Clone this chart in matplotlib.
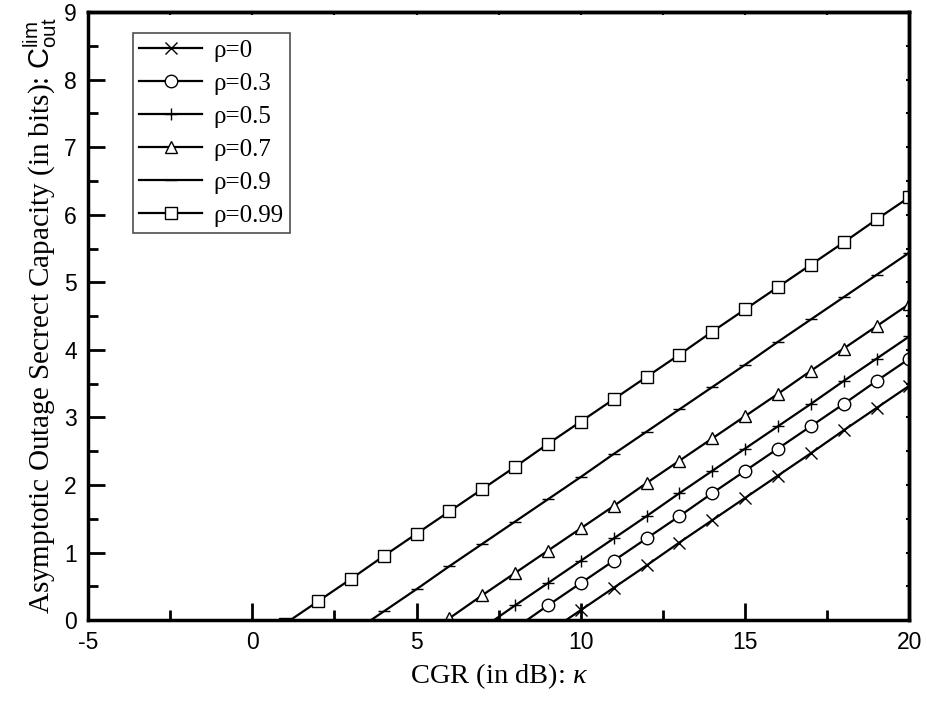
import matplotlib
matplotlib.use("Agg")
import matplotlib.pyplot as plt
from matplotlib.ticker import MultipleLocator

plt.rcParams['font.family'] = ['Liberation Serif', 'DejaVu Serif']
plt.rcParams['mathtext.fontset'] = 'custom'
plt.rcParams['mathtext.rm'] = 'Liberation Sans'
plt.rcParams['mathtext.it'] = 'Liberation Serif:italic'
plt.rcParams['axes.unicode_minus'] = False

# data (kappa in dB, capacity in bits)
x_r0 = [9, 10, 11, 12, 13, 14, 15, 16, 17, 18, 19, 20]
y_r0 = [-0.18, 0.15, 0.48, 0.81, 1.15, 1.48, 1.81, 2.14, 2.47, 2.81, 3.14, 3.47]

x_r03 = [8, 9, 10, 11, 12, 13, 14, 15, 16, 17, 18, 19, 20]
y_r03 = [-0.12, 0.22, 0.55, 0.88, 1.21, 1.54, 1.88, 2.21, 2.54, 2.87, 3.20, 3.54, 3.87]

x_r05 = [7, 8, 9, 10, 11, 12, 13, 14, 15, 16, 17, 18, 19, 20]
y_r05 = [-0.12, 0.22, 0.55, 0.88, 1.21, 1.54, 1.88, 2.21, 2.54, 2.87, 3.20, 3.54, 3.87, 4.20]

x_r07 = [5, 6, 7, 8, 9, 10, 11, 12, 13, 14, 15, 16, 17, 18, 19, 20]
y_r07 = [-0.30, 0.03, 0.37, 0.70, 1.03, 1.36, 1.69, 2.03, 2.36, 2.69, 3.02, 3.35, 3.69, 4.02, 4.35, 4.68]

x_r09 = [3, 4, 5, 6, 7, 8, 9, 10, 11, 12, 13, 14, 15, 16, 17, 18, 19, 20]
y_r09 = [-0.20, 0.13, 0.46, 0.80, 1.13, 1.46, 1.79, 2.12, 2.46, 2.79, 3.12, 3.45, 3.78, 4.12, 4.45, 4.78, 5.11, 5.44]

x_r099 = [1, 2, 3, 4, 5, 6, 7, 8, 9, 10, 11, 12, 13, 14, 15, 16, 17, 18, 19, 20]
y_r099 = [-0.05, 0.28, 0.61, 0.95, 1.28, 1.61, 1.94, 2.27, 2.61, 2.94, 3.27, 3.60, 3.93, 4.27, 4.60, 4.93, 5.26, 5.59, 5.93, 6.26]

labels = [u'\u03c1=0', u'\u03c1=0.3', u'\u03c1=0.5', u'\u03c1=0.7', u'\u03c1=0.9', u'\u03c1=0.99']
markers = ['x', 'o', '+', '^', '_', 's']
series = [(x_r0, y_r0), (x_r03, y_r03), (x_r05, y_r05), (x_r07, y_r07), (x_r09, y_r09), (x_r099, y_r099)]

fig = plt.figure(figsize=(9.27, 7.04), dpi=100)
ax = fig.add_axes([0.095, 0.119, 0.886, 0.864])

for (xs, ys), lab, m in zip(series, labels, markers):
    ax.plot(xs, ys, color='black', lw=1.6, marker=m, markersize=9,
            markerfacecolor='white', markeredgecolor='black', markeredgewidth=1.0,
            label=lab)

ax.set_xlim(-5, 20)
ax.set_ylim(0, 9)
ax.xaxis.set_major_locator(MultipleLocator(5))
ax.xaxis.set_minor_locator(MultipleLocator(2.5))
ax.yaxis.set_major_locator(MultipleLocator(1))
ax.yaxis.set_minor_locator(MultipleLocator(0.5))
ax.tick_params(which='both', direction='in', top=False, right=False, width=2)
ax.tick_params(which='major', length=12)
ax.tick_params(which='minor', length=7)
ax.tick_params(axis='both', labelsize=16.5, pad=8)
for lbl in ax.get_xticklabels() + ax.get_yticklabels():
    lbl.set_fontfamily('Liberation Sans')
for sp in ax.spines.values():
    sp.set_linewidth(2.5)

# tiny ticks on the top and right edges
top = ax.secondary_xaxis('top')
top.xaxis.set_major_locator(MultipleLocator(5))
top.xaxis.set_minor_locator(MultipleLocator(2.5))
top.tick_params(which='both', direction='in', length=2, width=1.5, labeltop=False)
top.spines['top'].set_linewidth(2.5)
right = ax.secondary_yaxis('right')
right.yaxis.set_major_locator(MultipleLocator(1))
right.yaxis.set_minor_locator(MultipleLocator(0.5))
right.tick_params(which='both', direction='in', length=2, width=1.5, labelright=False)
right.spines['right'].set_linewidth(2.5)

ax.set_xlabel(r'CGR (in dB): $\kappa$', fontsize=20.5, labelpad=5)
ax.set_ylabel(r'Asymptotic Outage Secrect Capacity (in bits): $\mathrm{C}_{\mathrm{out}}^{\mathrm{lim}}$',
              fontsize=21, labelpad=4)

leg = ax.legend(loc='upper left', bbox_to_anchor=(0.055, 0.965), borderaxespad=0, fontsize=18,
                handlelength=2.5, handletextpad=0.45, frameon=True, fancybox=False,
                edgecolor='#222222', borderpad=0.25, labelspacing=0.42)
leg.get_frame().set_linewidth(1.2)

fig.savefig('out.png', dpi=100)
